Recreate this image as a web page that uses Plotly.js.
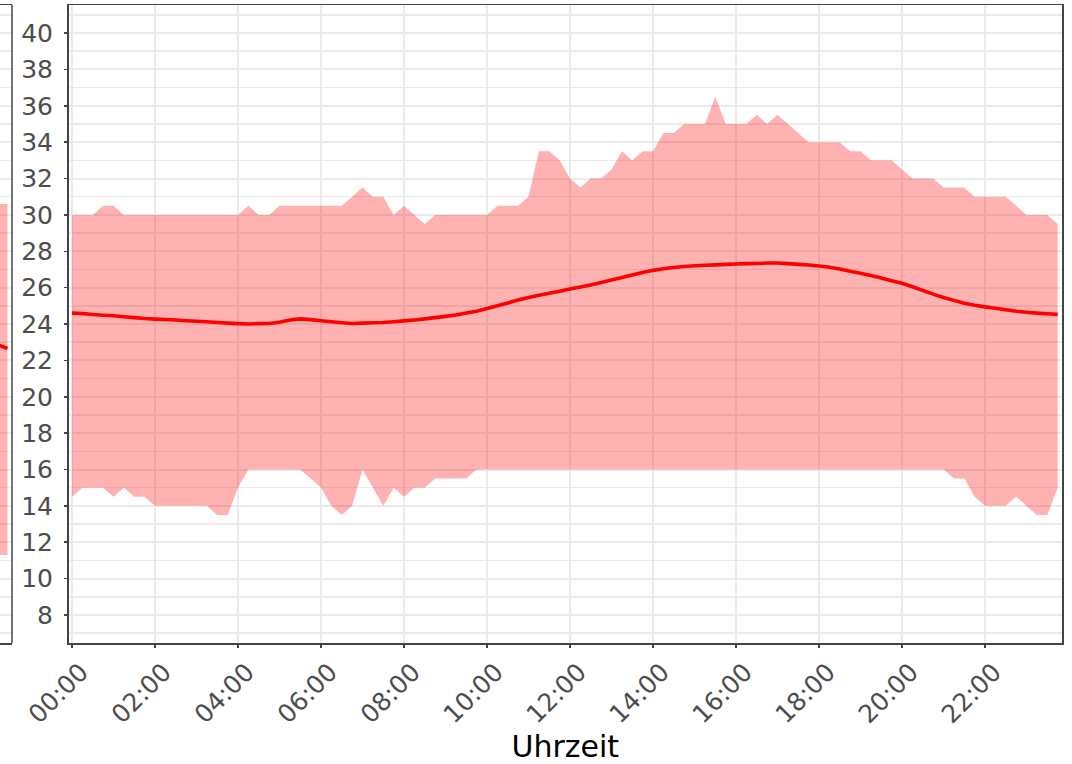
<!DOCTYPE html>
<html>
<head>
<meta charset="utf-8">
<script src="https://cdn.plot.ly/plotly-3.0.1.min.js"></script>
<style>html,body{margin:0;padding:0;background:#fff;}#chart{width:1072px;height:764px;}</style>
</head>
<body>
<div id="chart"></div>
<script>
// Uhrzeit (15-Minuten-Raster)
const times = [
"00:00","00:15","00:30","00:45","01:00","01:15","01:30","01:45",
"02:00","02:15","02:30","02:45","03:00","03:15","03:30","03:45",
"04:00","04:15","04:30","04:45","05:00","05:15","05:30","05:45",
"06:00","06:15","06:30","06:45","07:00","07:15","07:30","07:45",
"08:00","08:15","08:30","08:45","09:00","09:15","09:30","09:45",
"10:00","10:15","10:30","10:45","11:00","11:15","11:30","11:45",
"12:00","12:15","12:30","12:45","13:00","13:15","13:30","13:45",
"14:00","14:15","14:30","14:45","15:00","15:15","15:30","15:45",
"16:00","16:15","16:30","16:45","17:00","17:15","17:30","17:45",
"18:00","18:15","18:30","18:45","19:00","19:15","19:30","19:45",
"20:00","20:15","20:30","20:45","21:00","21:15","21:30","21:45",
"22:00","22:15","22:30","22:45","23:00","23:15","23:30","23:45"];

const maxT = [
30,30,30,30.5,30.5,30,30,30,30,30,
30,30,30,30,30,30,30,30.5,30,30,
30.5,30.5,30.5,30.5,30.5,30.5,30.5,31,31.5,31,
31,30,30.5,30,29.5,30,30,30,30,30,
30,30.5,30.5,30.5,31,33.5,33.5,33,32,31.5,
32,32,32.5,33.5,33,33.5,33.5,34.5,34.5,35,
35,35,36.5,35,35,35,35.5,35,35.5,35,
34.5,34,34,34,34,33.5,33.5,33,33,33,
32.5,32,32,32,31.5,31.5,31.5,31,31,31,
31,30.5,30,30,30,29.5];

const minT = [
14.5,15,15,15,14.5,15,14.5,14.5,14,14,
14,14,14,14,13.5,13.5,15,16,16,16,
16,16,16,15.5,15,14,13.5,14,16,15,
14,15,14.5,15,15,15.5,15.5,15.5,15.5,16,
16,16,16,16,16,16,16,16,16,16,
16,16,16,16,16,16,16,16,16,16,
16,16,16,16,16,16,16,16,16,16,
16,16,16,16,16,16,16,16,16,16,
16,16,16,16,16,15.5,15.5,14.5,14,14,
14,14.5,14,13.5,13.5,15];

const meanT = [
24.6,24.58,24.52,24.48,24.45,24.4,24.35,24.3,24.27,24.25,
24.22,24.18,24.15,24.12,24.08,24.05,24.02,24.0,24.02,24.03,
24.1,24.22,24.28,24.24,24.18,24.12,24.07,24.03,24.05,24.07,
24.08,24.12,24.17,24.22,24.28,24.35,24.42,24.5,24.6,24.7,
24.85,25.0,25.16,25.32,25.46,25.58,25.69,25.8,25.92,26.03,
26.15,26.28,26.42,26.56,26.7,26.83,26.95,27.04,27.11,27.16,
27.2,27.23,27.25,27.28,27.3,27.32,27.33,27.35,27.35,27.32,
27.28,27.24,27.19,27.12,27.02,26.9,26.79,26.67,26.53,26.38,
26.24,26.05,25.85,25.64,25.46,25.3,25.14,25.03,24.94,24.87,
24.78,24.7,24.65,24.6,24.56,24.53];

// Rest des benachbarten Panels (links angeschnitten)
const leftHours = [23.25, 23.5, 23.75];
const leftMax = [30.6, 30.6, 30.6];
const leftMin = [11.3, 11.3, 11.3];
const leftMean = [22.9, 22.85, 22.65];

const day = "2024-01-01 ";
const xs = times.map(t => day + t);

const fillCol = 'rgba(255,0,0,0.3)';
const gridCol = '#ebebeb';
const frameCol = '#444444';
const tickCol = '#4d4d4d';

const traces = [
  {x: xs, y: minT, type:'scatter', mode:'lines', line:{width:0, color:fillCol, simplify:false}, hoverinfo:'skip', xaxis:'x', yaxis:'y'},
  {x: xs, y: maxT, type:'scatter', mode:'lines', line:{width:0, color:fillCol, simplify:false}, fill:'tonexty', fillcolor:fillCol, hoverinfo:'skip', xaxis:'x', yaxis:'y'},
  {x: xs, y: meanT, type:'scatter', mode:'lines', line:{width:3.6, color:'#ff0000', simplify:false}, xaxis:'x', yaxis:'y'},
  {x: leftHours, y: leftMin, type:'scatter', mode:'lines', line:{width:0, color:fillCol}, xaxis:'x2', yaxis:'y'},
  {x: leftHours, y: leftMax, type:'scatter', mode:'lines', line:{width:0, color:fillCol}, fill:'tonexty', fillcolor:fillCol, xaxis:'x2', yaxis:'y'},
  {x: leftHours, y: leftMean, type:'scatter', mode:'lines', line:{width:3.6, color:'#ff0000'}, xaxis:'x2', yaxis:'y'}
];

const W = 1062;
const layout = {
  width: 1072, height: 764,
  margin: {l:0, r:10, t:5, b:121, pad:0},
  paper_bgcolor:'#ffffff', plot_bgcolor:'#ffffff',
  showlegend:false,
  font:{family:'DejaVu Sans, sans-serif', color:tickCol},
  xaxis:{
    domain:[68.5/W, 1], anchor:'y', type:'date',
    range:['2023-12-31 23:54:56','2024-01-01 23:51:18'],
    tickformat:'%H:%M', dtick:7200000, tick0:'2024-01-01 00:00',
    tickangle:-45, tickfont:{size:25, color:tickCol},
    ticklabelshift:9,
    showgrid:true, gridcolor:gridCol, gridwidth:2,
    showline:true, linecolor:frameCol, linewidth:1.5, mirror:true,
    ticks:'outside', ticklen:3, tickcolor:frameCol, tickwidth:1.5,
    zeroline:false,
    title:{text:'Uhrzeit', font:{size:30, color:'#000000'}, standoff:8}
  },
  yaxis:{
    domain:[0,1], anchor:'x',
    range:[6.46, 41.54], dtick:2, tick0:0,
    tickfont:{size:25, color:tickCol},
    showgrid:true, gridcolor:gridCol, gridwidth:2,
    minor:{dtick:1, tick0:0, showgrid:true, gridcolor:gridCol, gridwidth:1.5},
    showline:true, linecolor:frameCol, linewidth:1.5, mirror:true,
    ticks:'outside', ticklen:3, tickcolor:frameCol, tickwidth:1.5,
    ticklabelstandoff:6,
    zeroline:false
  },
  xaxis2:{
    domain:[0, 12/W], anchor:'y',
    range:[23.55, 23.87],
    showgrid:false, showticklabels:false, zeroline:false, ticks:'',
    showline:true, linecolor:frameCol, linewidth:1.5, mirror:true
  },
  shapes:[
    {type:'line', xref:'paper', yref:'paper', x0:12/W, x1:12/W, y0:0, y1:1, line:{color:frameCol, width:1.5}}
  ]
};

Plotly.newPlot('chart', traces, layout, {staticPlot:true, displayModeBar:false});
</script>
</body>
</html>
